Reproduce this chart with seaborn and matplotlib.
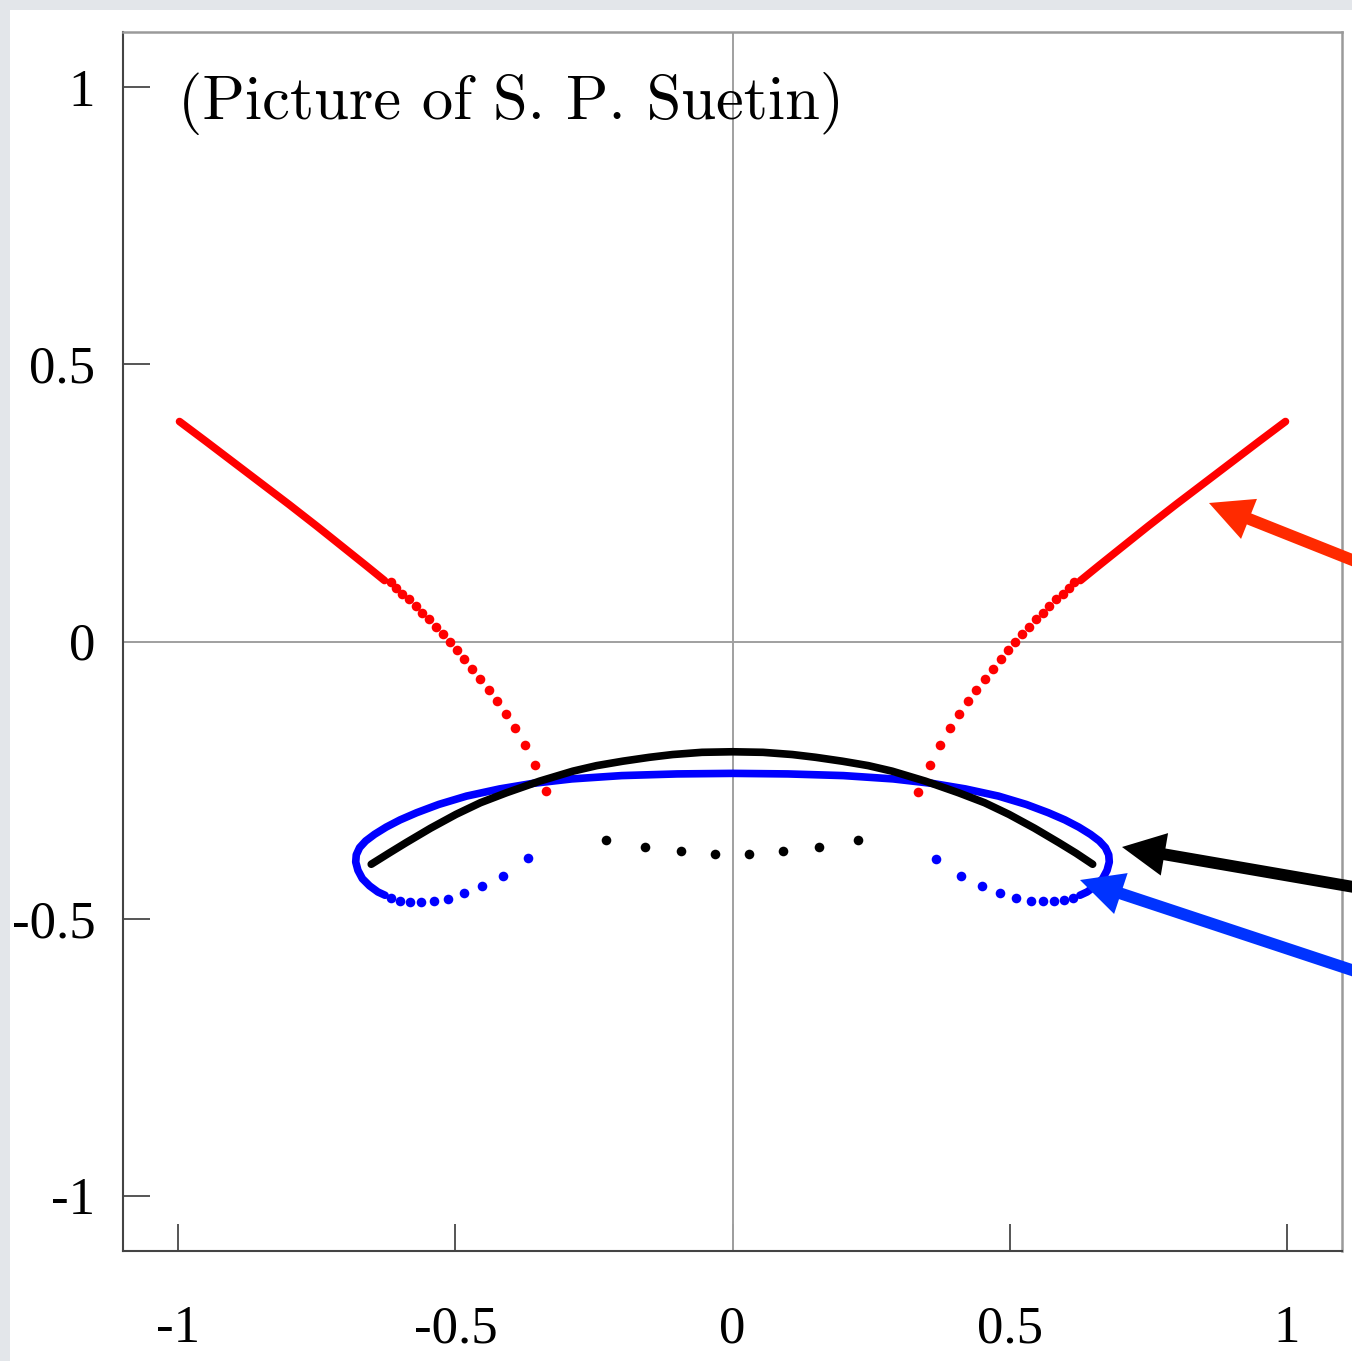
import matplotlib
matplotlib.use("Agg")
import matplotlib.pyplot as plt
from matplotlib.patches import Rectangle
import seaborn as sns

# ---------------- data ----------------
# red curve, dense upper parts (drawn as a thick line)
red_left_line_x = [-0.998, -0.950, -0.900, -0.850, -0.800, -0.750, -0.700, -0.660, -0.628]
red_left_line_y = [0.397, 0.361, 0.323, 0.285, 0.247, 0.208, 0.168, 0.136, 0.110]
red_right_line_x = [0.998, 0.950, 0.900, 0.850, 0.800, 0.750, 0.700, 0.660, 0.628]
red_right_line_y = [0.397, 0.361, 0.323, 0.285, 0.247, 0.208, 0.168, 0.136, 0.110]
# red curve, sparse lower parts (individual dots)
red_left_dots_x = [-0.617, -0.607, -0.596, -0.584, -0.572, -0.561, -0.548, -0.535, -0.523, -0.510, -0.497,
                   -0.484, -0.470, -0.455, -0.440, -0.425, -0.408, -0.392, -0.375, -0.357, -0.336]
red_left_dots_y = [0.107, 0.097, 0.086, 0.076, 0.064, 0.052, 0.040, 0.026, 0.013, -0.001, -0.016,
                   -0.032, -0.049, -0.068, -0.087, -0.108, -0.130, -0.157, -0.187, -0.223, -0.270]
red_right_dots_x = [0.617, 0.607, 0.596, 0.584, 0.572, 0.561, 0.548, 0.535, 0.523, 0.510, 0.497,
                    0.484, 0.470, 0.455, 0.440, 0.425, 0.408, 0.392, 0.375, 0.356, 0.335]
red_right_dots_y = [0.107, 0.097, 0.086, 0.076, 0.064, 0.052, 0.040, 0.026, 0.013, -0.001, -0.016,
                    -0.032, -0.049, -0.068, -0.087, -0.108, -0.130, -0.157, -0.187, -0.223, -0.271]

# blue curve, dense loop part (left bottom -> top -> right bottom)
blue_line_x = [-0.627, -0.640, -0.655, -0.668, -0.676, -0.680, -0.679, -0.673, -0.662, -0.646, -0.625,
               -0.600, -0.570, -0.530, -0.480, -0.420, -0.360, -0.290, -0.200, -0.100, 0.000,
               0.100, 0.200, 0.290, 0.360, 0.420, 0.480, 0.530, 0.570, 0.600, 0.625,
               0.646, 0.662, 0.673, 0.679, 0.680, 0.676, 0.668, 0.655, 0.640, 0.627]
blue_line_y = [-0.458, -0.452, -0.441, -0.428, -0.413, -0.398, -0.385, -0.372, -0.360, -0.348, -0.335,
               -0.322, -0.309, -0.294, -0.279, -0.266, -0.256, -0.248, -0.242, -0.239, -0.238,
               -0.239, -0.242, -0.248, -0.256, -0.266, -0.279, -0.294, -0.309, -0.322, -0.335,
               -0.348, -0.360, -0.372, -0.385, -0.398, -0.413, -0.428, -0.441, -0.452, -0.458]
# blue curve, sparse dots
blue_left_dots_x = [-0.616, -0.600, -0.582, -0.562, -0.539, -0.514, -0.484, -0.452, -0.415, -0.369]
blue_left_dots_y = [-0.463, -0.468, -0.470, -0.470, -0.469, -0.464, -0.454, -0.441, -0.423, -0.391]
blue_right_dots_x = [0.615, 0.598, 0.580, 0.560, 0.538, 0.511, 0.483, 0.450, 0.413, 0.368]
blue_right_dots_y = [-0.463, -0.467, -0.468, -0.468, -0.468, -0.463, -0.454, -0.441, -0.423, -0.392]

# black arc
black_arc_x = [-0.652, -0.620, -0.589, -0.545, -0.499, -0.455, -0.408, -0.348, -0.288, -0.245, -0.198,
               -0.150, -0.108, -0.055, 0.000, 0.055, 0.108, 0.150, 0.198, 0.245, 0.288, 0.348,
               0.408, 0.455, 0.499, 0.545, 0.589, 0.620, 0.650]
black_arc_y = [-0.402, -0.382, -0.363, -0.337, -0.312, -0.291, -0.273, -0.252, -0.234, -0.224, -0.216,
               -0.209, -0.204, -0.200, -0.199, -0.200, -0.204, -0.209, -0.216, -0.224, -0.234, -0.252,
               -0.273, -0.291, -0.312, -0.337, -0.363, -0.382, -0.402]
# isolated black dots
black_dots_x = [-0.229, -0.158, -0.093, -0.031, 0.029, 0.092, 0.156, 0.227]
black_dots_y = [-0.359, -0.371, -0.378, -0.383, -0.383, -0.378, -0.371, -0.359]

tick_values = [-1, -0.5, 0, 0.5, 1]
tick_labels = ["-1", "-0.5", "0", "0.5", "1"]
caption = "(Picture of S. P. Suetin)"

# ---------------- figure ----------------
sns.set_theme(style="white")
plt.rcParams["axes.unicode_minus"] = False
plt.rcParams["font.family"] = ["Liberation Serif", "DejaVu Serif"]

W, H = 1352, 1361
fig = plt.figure(figsize=(W / 100, H / 100), dpi=100)
fig.patch.set_facecolor("#e3e6ea")
fig.add_artist(Rectangle((10 / W, 0), 1, (H - 10) / H, transform=fig.transFigure,
                         facecolor="white", edgecolor="none", zorder=-5))

ax = fig.add_axes([123 / W, (H - 1251) / H, (1342 - 123) / W, (1251 - 32) / H])
ax.set_facecolor("white")
ax.set_xlim(-1.1, 1.1)
ax.set_ylim(-1.1, 1.1)

ax.axhline(0, color="#a0a0a0", lw=1.4, zorder=1)
ax.axvline(0, color="#a0a0a0", lw=1.4, zorder=1)

lw_dense = 5.5
dot_s = 48
line_kw = dict(sort=False, estimator=None, solid_joinstyle="round", solid_capstyle="round")

# blue
sns.lineplot(x=blue_line_x, y=blue_line_y, color="#0000ff", lw=lw_dense, ax=ax, zorder=3, **line_kw)
sns.scatterplot(x=blue_left_dots_x + blue_right_dots_x, y=blue_left_dots_y + blue_right_dots_y,
                color="#0000ff", s=dot_s, linewidth=0, ax=ax, zorder=3)
# black
sns.lineplot(x=black_arc_x, y=black_arc_y, color="black", lw=lw_dense, ax=ax, zorder=4, **line_kw)
sns.scatterplot(x=black_dots_x, y=black_dots_y, color="black", s=dot_s, linewidth=0, ax=ax, zorder=4)
# red
sns.lineplot(x=red_left_line_x, y=red_left_line_y, color="#ff0000", lw=lw_dense, ax=ax, zorder=5, **line_kw)
sns.lineplot(x=red_right_line_x, y=red_right_line_y, color="#ff0000", lw=lw_dense, ax=ax, zorder=5, **line_kw)
sns.scatterplot(x=red_left_dots_x + red_right_dots_x, y=red_left_dots_y + red_right_dots_y,
                color="#ff0000", s=dot_s, linewidth=0, ax=ax, zorder=5)

# axes styling
for side in ["left", "bottom"]:
    ax.spines[side].set_color("#444444")
    ax.spines[side].set_linewidth(1.5)
for side in ["top", "right"]:
    ax.spines[side].set_color("#9a9a9a")
    ax.spines[side].set_linewidth(1.8)

ax.set_xticks(tick_values)
ax.set_xticklabels(tick_labels)
ax.set_yticks(tick_values)
ax.set_yticklabels(tick_labels)
ax.tick_params(axis="both", direction="in", length=19.5, width=1.4, color="#555555",
               labelsize=38, labelcolor="black")
ax.tick_params(axis="x", pad=39, bottom=True, top=False)
ax.tick_params(axis="y", pad=20, left=True, right=False)
ax.grid(False)

ax.text(0.045, 0.941, caption, transform=ax.transAxes, fontsize=45,
        family=["cmr10", "DejaVu Serif"], ha="left", va="center", color="black", zorder=6)

# arrows from outside the axes (figure pixels)
arrows = [((1209, H - 503), (1400, H - 579), "#ff2a00"),
          ((1122, H - 847), (1400, H - 895), "#000000"),
          ((1080, H - 880), (1400, H - 986), "#0033ff")]
for tip, tail, col in arrows:
    ax.annotate("", xy=tip, xycoords="figure pixels", xytext=tail, textcoords="figure pixels",
                arrowprops=dict(facecolor=col, edgecolor="none", width=8.5, headwidth=31,
                                headlength=31, shrink=0),
                annotation_clip=False, zorder=7)

fig.savefig("out.png", dpi=100, facecolor=fig.get_facecolor())
